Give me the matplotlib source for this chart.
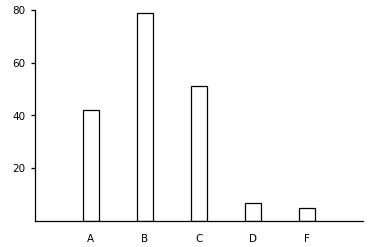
import matplotlib
matplotlib.use("Agg")
import matplotlib.pyplot as plt

categories = ["A", "B", "C", "D", "F"]
values = [42, 79, 51, 7, 5]
y_ticks = [20, 40, 60, 80]

fig = plt.figure(figsize=(3.73, 2.47), dpi=100)
ax = fig.add_axes([35/373, 26/247, (363-35)/373, (221-10)/247])
x = list(range(len(categories)))
ax.bar(x, values, width=0.3, color="white", edgecolor="black", linewidth=0.9)
ax.set_xlim(-1.03, 5.03)
ax.set_ylim(0, 80)
ax.set_yticks(y_ticks)
ax.set_xticks(x)
ax.set_xticklabels(categories)
for s in ["top", "right"]:
    ax.spines[s].set_visible(False)
for s in ["left", "bottom"]:
    ax.spines[s].set_linewidth(0.9)
ax.tick_params(axis="y", length=3, width=0.9, pad=4, labelsize=7.5)
ax.tick_params(axis="x", length=0, pad=9, labelsize=7.5)
fig.savefig("out.png", dpi=100)
